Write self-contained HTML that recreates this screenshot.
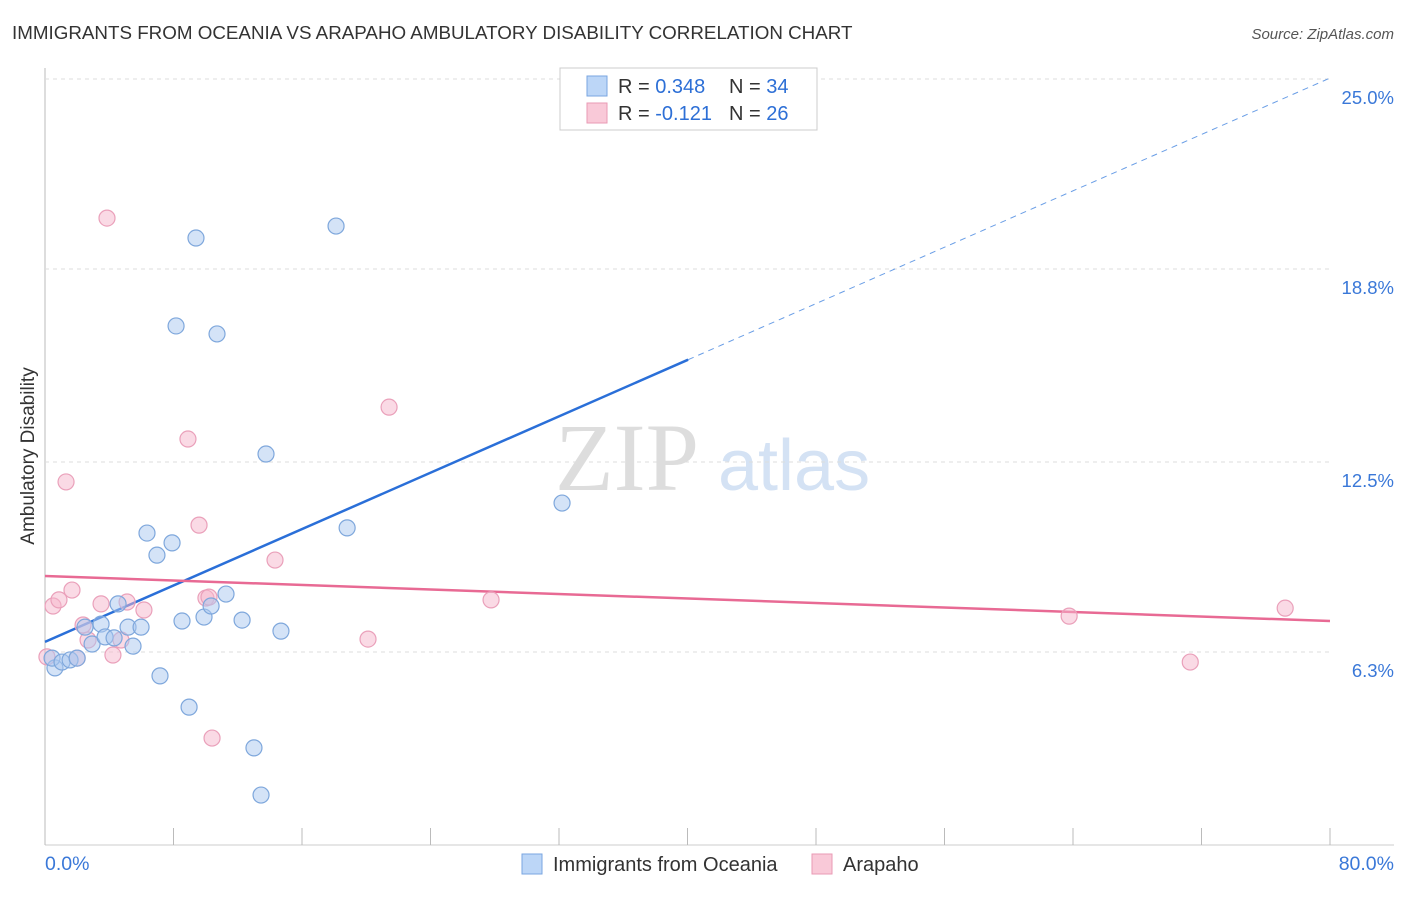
<!DOCTYPE html>
<html><head><meta charset="utf-8">
<style>
body{margin:0;background:#fff;font-family:"Liberation Sans",sans-serif;}
#wrap{position:relative;width:1406px;height:892px;}
</style></head>
<body>
<div id="wrap">
<svg id="svg" width="1406" height="892" xmlns="http://www.w3.org/2000/svg">
<text x="12" y="39" font-size="18.8" fill="#333">IMMIGRANTS FROM OCEANIA VS ARAPAHO AMBULATORY DISABILITY CORRELATION CHART</text>
<text x="1394" y="39" font-size="15" fill="#555" font-style="italic" text-anchor="end">Source: ZipAtlas.com</text>
<text x="34" y="456" font-size="19" fill="#333" text-anchor="middle" transform="rotate(-90 34 456)">Ambulatory Disability</text>
<text x="555" y="490" font-size="96" fill="#ddd" font-family="Liberation Serif,serif">ZIP</text>
<text x="718" y="490" font-size="72" fill="#d4e2f4">atlas</text>
<g id="grid"></g><g id="lines"></g><g id="pts"></g>
<g>
<rect x="560" y="68" width="257" height="62" fill="#fff" stroke="#ccc"/>
<rect x="587" y="76" width="20" height="20" fill="#bcd6f7" stroke="#7aa6e0"/>
<rect x="587" y="103" width="20" height="20" fill="#f9c9d8" stroke="#e99ab4"/>
<text x="618" y="93" font-size="20" fill="#333">R = <tspan fill="#2d6fd6">0.348</tspan></text>
<text x="729" y="93" font-size="20" fill="#333">N = <tspan fill="#2d6fd6">34</tspan></text>
<text x="618" y="120" font-size="20" fill="#333">R = <tspan fill="#2d6fd6">-0.121</tspan></text>
<text x="729" y="120" font-size="20" fill="#333">N = <tspan fill="#2d6fd6">26</tspan></text>
</g>
<text x="45" y="870" font-size="19.5" fill="#3a78d8">0.0%</text>
<text x="1394" y="870" font-size="19.5" fill="#3a78d8" text-anchor="end">80.0%</text>
<rect x="522" y="854" width="20" height="20" fill="#bcd6f7" stroke="#7aa6e0"/>
<text x="553" y="871" font-size="20" fill="#333">Immigrants from Oceania</text>
<rect x="812" y="854" width="20" height="20" fill="#f9c9d8" stroke="#e99ab4"/>
<text x="843" y="871" font-size="20" fill="#333">Arapaho</text>
</svg>
</div>
<script>
const yTicks=[25.0,18.8,12.5,6.3];
const yTickLabels=["25.0%","18.8%","12.5%","6.3%"];
const xTicks=[0,8,16,24,32,40,48,56,64,72,80];
const blueX=[0.62,0.44,1.06,1.56,2.0,2.49,2.93,3.49,3.74,4.30,4.55,5.17,5.48,5.98,6.35,6.97,7.16,7.91,8.16,8.53,8.97,9.40,9.90,10.34,10.71,11.27,12.27,13.01,13.45,13.76,14.69,18.12,18.81,32.19];
const blueY=[5.78,6.10,5.97,6.04,6.10,7.11,6.56,7.21,6.79,6.76,7.87,7.11,6.49,7.11,10.18,9.46,5.52,9.86,16.94,7.31,4.50,19.81,7.44,7.80,16.68,8.19,7.34,3.17,1.63,12.76,6.98,20.20,10.35,11.16];
const pinkX=[0.12,0.50,0.87,1.31,1.68,2.37,2.68,3.49,3.86,4.23,4.73,5.11,6.16,8.90,9.59,10.02,10.21,10.40,14.32,20.11,21.42,27.77,63.76,71.30,77.21,2.0];
const pinkY=[6.14,7.80,8.00,11.85,8.32,7.18,6.69,7.87,20.46,6.20,6.69,7.93,7.67,13.25,10.44,8.06,8.09,3.49,9.30,6.72,14.29,8.00,7.47,5.97,7.73,6.10];
const blueLine=[6.63,25.03]; const blueSolidEnd=40.04;
const pinkLine=[8.78,7.31];
const X0=45,X1=1330,YB=845,YT=79;
const xs=v=>X0+(X1-X0)*v/80;
const ys=v=>YB-(YB-YT)*v/25;
const NS="http://www.w3.org/2000/svg";
function mk(p,t,a){const e=document.createElementNS(NS,t);for(const k in a)e.setAttribute(k,a[k]);p.appendChild(e);return e;}
const g=document.getElementById('grid');
let ax=mk(g,'line',{x1:X0,x2:X0,y1:68,y2:YB,stroke:'#bbb'});


let bx=mk(g,'line',{x1:X0,x2:1394,y1:YB,y2:YB,stroke:'#ccc'});


yTicks.forEach((t,i)=>{
 const l=mk(g,'line',{x1:X0,x2:1330,y1:ys(t),y2:ys(t),stroke:'#ddd','stroke-dasharray':'4,4'});
 
 
 const tx=mk(g,'text',{x:1394,y:ys(t)+25,'font-size':18.5,fill:'#3a78d8','text-anchor':'end'});
 tx.textContent=yTickLabels[i];
 
 
});
xTicks.forEach(t=>{
 const l=mk(g,'line',{x1:xs(t),x2:xs(t),y1:828,y2:YB,stroke:'#bbb'});
 
 
});
const L=document.getElementById('lines');
let b1=mk(L,'line',{x1:xs(0),y1:ys(blueLine[0]),x2:xs(blueSolidEnd),y2:ys(blueLine[0]+(blueLine[1]-blueLine[0])*blueSolidEnd/80),stroke:'#2a6fd8','stroke-width':2.5});


let b2=mk(L,'line',{x1:xs(blueSolidEnd),y1:ys(blueLine[0]+(blueLine[1]-blueLine[0])*blueSolidEnd/80),x2:xs(80),y2:ys(blueLine[1]),stroke:'#6a9ee6','stroke-width':1,'stroke-dasharray':'6,5'});


let p1=mk(L,'line',{x1:xs(0),y1:ys(pinkLine[0]),x2:xs(80),y2:ys(pinkLine[1]),stroke:'#e86a94','stroke-width':2.5});


const P=document.getElementById('pts');
pinkX.forEach((x,i)=>{
 const c=mk(P,'circle',{cx:xs(x),cy:ys(pinkY[i]),r:8,fill:'rgba(246,182,204,0.5)',stroke:'#eaa0ba','stroke-width':1.2});
 
 
});
blueX.forEach((x,i)=>{
 const c=mk(P,'circle',{cx:xs(x),cy:ys(blueY[i]),r:8,fill:'rgba(170,200,240,0.5)',stroke:'#7ea7dc','stroke-width':1.2});
 
 
});
</script>
</body></html>
